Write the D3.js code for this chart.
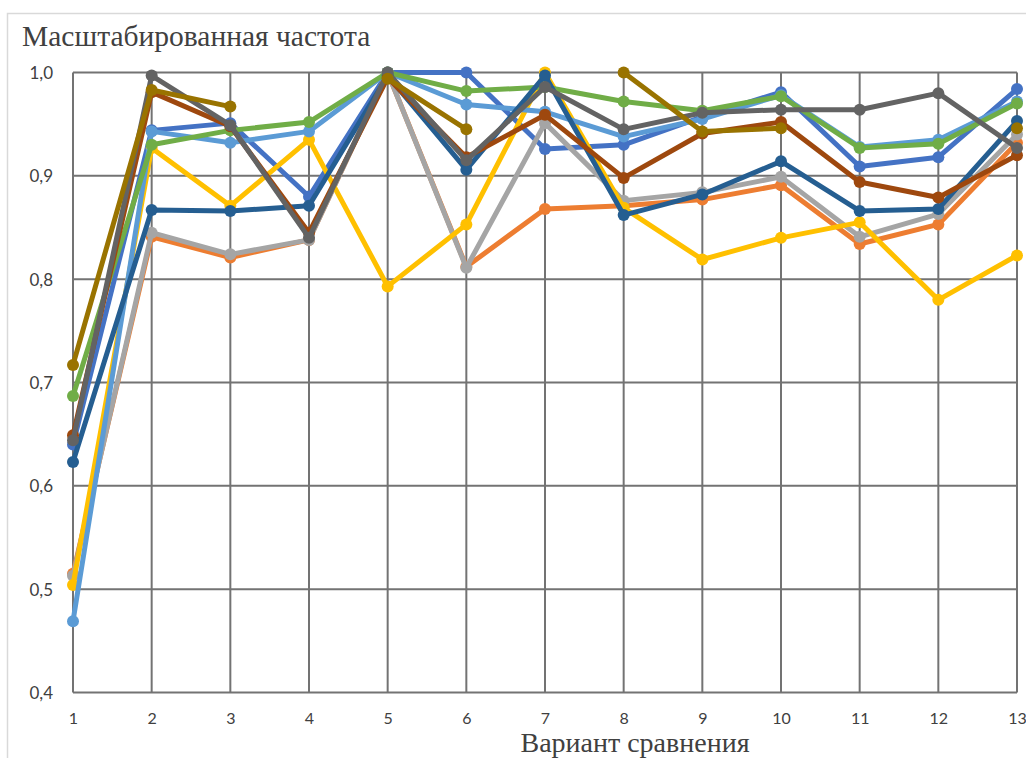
<!DOCTYPE html>
<html>
<head>
<meta charset="utf-8">
<script src="https://cdn.jsdelivr.net/npm/d3@7"></script>
<style>
  html, body { margin: 0; padding: 0; background: #fff; }
  svg { display: block; }
</style>
</head>
<body>
<svg id="chart" width="1026" height="758"></svg>
<script>
const categories = [1, 2, 3, 4, 5, 6, 7, 8, 9, 10, 11, 12, 13];
const yTicks = [0.4, 0.5, 0.6, 0.7, 0.8, 0.9, 1.0];

const sBlue      = [0.640, 0.944, 0.951, 0.880, 1.000, 1.000, 0.926, 0.930, 0.957, 0.981, 0.909, 0.918, 0.984];
const sOrange    = [0.515, 0.841, 0.821, 0.838, 1.000, 0.812, 0.868, 0.871, 0.877, 0.891, 0.834, 0.853, 0.932];
const sGray      = [0.513, 0.845, 0.824, 0.838, 1.000, 0.811, 0.951, 0.876, 0.884, 0.899, 0.841, 0.863, 0.940];
const sYellow    = [0.504, 0.927, 0.871, 0.935, 0.793, 0.853, 1.000, 0.869, 0.819, 0.840, 0.855, 0.780, 0.823];
const sLightBlue = [0.469, 0.943, 0.932, 0.943, 1.000, 0.969, 0.962, 0.938, 0.955, 0.978, 0.928, 0.935, 0.972];
const sGreen     = [0.687, 0.930, 0.944, 0.952, 1.000, 0.982, 0.986, 0.972, 0.963, 0.977, 0.927, 0.931, 0.970];
const sDarkBlue  = [0.623, 0.867, 0.866, 0.871, 0.997, 0.906, 0.997, 0.862, 0.882, 0.914, 0.866, 0.868, 0.953];
const sBrown     = [0.649, 0.981, 0.948, 0.845, 0.995, 0.918, 0.959, 0.898, 0.941, 0.952, 0.894, 0.879, 0.920];
const sDarkGray  = [0.644, 0.997, 0.949, 0.840, 1.000, 0.915, 0.986, 0.945, 0.961, 0.964, 0.964, 0.980, 0.927];
const sOlive     = [0.717, 0.983, 0.967, null,  0.994, 0.945, null,  1.000, 0.943, 0.946, null,  null,  0.946];

const seriesList = [sBlue, sOrange, sGray, sYellow, sLightBlue, sGreen, sDarkBlue, sBrown, sDarkGray, sOlive];
const colors = ["#4472C4", "#ED7D31", "#A5A5A5", "#FFC000", "#5B9BD5", "#70AD47", "#255E91", "#9E480E", "#636363", "#997300"];

const yTitle = "Масштабированная частота";
const xTitle = "Вариант сравнения";

const svg = d3.select("#chart");
const W = 1026, H = 758;
const m = { left: 73, right: 1017, top: 72.5, bottom: 692.5 };

// outer frame (partially visible)
svg.append("path")
  .attr("d", `M7.5,${H} L7.5,13.5 L${W},13.5`)
  .attr("fill", "none").attr("stroke", "#d9d9d9").attr("stroke-width", 1.5);

const x = d3.scaleLinear().domain([1, 13]).range([m.left, m.right]);
const y = d3.scaleLinear().domain([0.4, 1.0]).range([m.bottom, m.top]);

// gridlines
const gridColor = "#737373";
svg.append("g").selectAll("line.h").data(yTicks).join("line")
  .attr("x1", m.left).attr("x2", m.right)
  .attr("y1", d => y(d)).attr("y2", d => y(d))
  .attr("stroke", gridColor).attr("stroke-width", 2);
svg.append("g").selectAll("line.v").data(categories).join("line")
  .attr("x1", d => x(d)).attr("x2", d => x(d))
  .attr("y1", m.top).attr("y2", m.bottom)
  .attr("stroke", gridColor).attr("stroke-width", 2);

// axes labels via d3 axes
const xAxis = d3.axisBottom(x).tickValues(categories).tickSize(0).tickPadding(0).tickFormat(d3.format("d"));
const gx = svg.append("g").attr("transform", `translate(0,${m.bottom})`).call(xAxis);
gx.select(".domain").remove();
gx.selectAll("text").attr("dy", null).attr("y", 31)
  .attr("font-family", "Lato, 'Open Sans', sans-serif").attr("font-size", 16).attr("fill", "#404040");

const fmt = d => d3.format(".1f")(d).replace(".", ",");
const yAxis = d3.axisLeft(y).tickValues(yTicks).tickSize(0).tickPadding(0).tickFormat(fmt);
const gy = svg.append("g").attr("transform", `translate(53,0)`).call(yAxis);
gy.select(".domain").remove();
gy.selectAll("text").attr("x", 0).attr("dy", "0.36em")
  .attr("font-family", "Lato, 'Open Sans', sans-serif").attr("font-size", 17).attr("fill", "#404040");

// series
const line = d3.line()
  .defined(d => d.v !== null)
  .x(d => x(d.c)).y(d => y(d.v));

seriesList.forEach((s, i) => {
  const pts = s.map((v, j) => ({ c: categories[j], v }));
  const g = svg.append("g");
  g.append("path").datum(pts)
    .attr("d", line)
    .attr("fill", "none").attr("stroke", colors[i])
    .attr("stroke-width", 5).attr("stroke-linejoin", "round").attr("stroke-linecap", "round");
  g.selectAll("circle").data(pts.filter(d => d.v !== null)).join("circle")
    .attr("cx", d => x(d.c)).attr("cy", d => y(d.v)).attr("r", 6)
    .attr("fill", colors[i]);
});

// titles
svg.append("text").attr("x", 22).attr("y", 46)
  .attr("font-family", "'Liberation Serif', 'Times New Roman', serif").attr("font-size", 29.5)
  .attr("fill", "#404040").text(yTitle);
svg.append("text").attr("x", 635).attr("y", 752).attr("text-anchor", "middle")
  .attr("font-family", "'Liberation Serif', 'Times New Roman', serif").attr("font-size", 28)
  .attr("fill", "#404040").text(xTitle);
</script>
</body>
</html>
